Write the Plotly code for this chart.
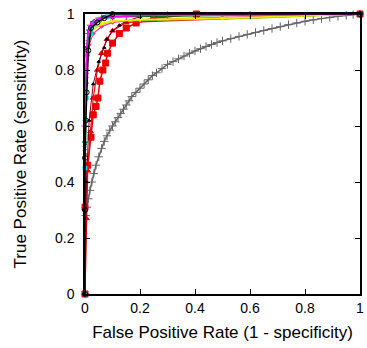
import plotly.graph_objects as go

# ROC curves (FPR, TPR)
gray_x = [0, 0.003, 0.007, 0.012, 0.018, 0.025, 0.032, 0.04, 0.05, 0.06, 0.07, 0.08, 0.09, 0.1, 0.11, 0.12, 0.13, 0.14,
          0.15, 0.16, 0.17, 0.185, 0.2, 0.215, 0.23, 0.245, 0.26, 0.28, 0.3, 0.32, 0.34, 0.36, 0.38, 0.4, 0.42, 0.44,
          0.46, 0.48, 0.5, 0.53, 0.56, 0.59, 0.62, 0.65, 0.68, 0.71, 0.74, 0.77, 0.8, 0.83, 0.86, 0.89, 0.92, 0.95,
          0.975, 1.0]
gray_y = [0, 0.28, 0.31, 0.34, 0.37, 0.4, 0.43, 0.46, 0.49, 0.52, 0.545, 0.565, 0.585, 0.6, 0.615, 0.63, 0.645, 0.66,
          0.675, 0.69, 0.705, 0.72, 0.735, 0.75, 0.765, 0.78, 0.79, 0.805, 0.82, 0.83, 0.84, 0.85, 0.86, 0.868, 0.876,
          0.884, 0.891, 0.898, 0.904, 0.912, 0.92, 0.927, 0.934, 0.941, 0.948, 0.955, 0.962, 0.968, 0.974, 0.979,
          0.984, 0.988, 0.992, 0.995, 0.998, 1.0]

red_sq_x = [0, 0, 0.01, 0.022, 0.03, 0.04, 0.047, 0.054, 0.065, 0.075, 0.082, 0.1, 0.125, 0.15, 0.186, 0.25, 0.405, 1.0]
red_sq_y = [0, 0.31, 0.46, 0.56, 0.64, 0.67, 0.70, 0.76, 0.8, 0.825, 0.86, 0.896, 0.93, 0.95, 0.968, 0.985, 1.0, 1.0]

red_tri_x = [0, 0.005, 0.01, 0.02, 0.03, 0.045, 0.06, 0.08, 0.1, 0.15, 1.0]
red_tri_y = [0, 0.27, 0.44, 0.58, 0.7, 0.8, 0.86, 0.91, 0.94, 0.97, 1.0]

blk_tri_x = [0, 0.005, 0.015, 0.03, 0.05, 0.07, 0.08, 0.1, 0.125, 0.15, 0.2, 0.3, 1.0]
blk_tri_y = [0, 0.4, 0.62, 0.75, 0.83, 0.88, 0.91, 0.94, 0.96, 0.975, 0.99, 1.0, 1.0]

blk_circ_x = [0, 0, 0, 0.003, 0.006, 0.012, 0.022, 0.045, 0.07, 0.1, 1.0]
blk_circ_y = [0, 0.3, 0.486, 0.62, 0.72, 0.87, 0.95, 0.97, 0.985, 1.0, 1.0]

mag_x = [0, 0, 0.005, 0.01, 0.02, 0.04, 0.06, 0.1, 0.15, 0.2, 0.25, 0.3, 0.6, 1.0]
mag_y = [0, 0.6, 0.85, 0.93, 0.96, 0.975, 0.985, 0.99, 0.993, 0.995, 0.996, 0.997, 0.998, 1.0]

cyan_x = [0, 0, 0.004, 0.01, 0.02, 0.035, 0.05, 0.08, 0.12, 1.0]
cyan_y = [0, 0.45, 0.7, 0.86, 0.93, 0.965, 0.98, 0.99, 0.995, 1.0]

yel_x = [0, 0, 0.004, 0.01, 0.02, 0.035, 0.06, 0.1, 0.2, 0.5, 1.0]
yel_y = [0, 0.58, 0.8, 0.88, 0.925, 0.95, 0.965, 0.975, 0.98, 0.985, 1.0]

lime_x = [0, 0, 0.005, 0.012, 0.025, 0.05, 0.1, 0.3, 0.6, 1.0]
lime_y = [0, 0.5, 0.82, 0.9, 0.94, 0.96, 0.975, 0.98, 0.985, 1.0]

dgreen_x = [0, 0, 0.003, 0.008, 0.015, 0.03, 0.06, 0.1, 1.0]
dgreen_y = [0, 0.54, 0.75, 0.88, 0.94, 0.97, 0.985, 0.99, 1.0]

pink_x = [0, 0, 0.006, 0.015, 0.03, 0.06, 0.1, 0.2, 0.5, 1.0]
pink_y = [0, 0.5, 0.8, 0.89, 0.93, 0.955, 0.97, 0.98, 0.988, 1.0]

purple_x = [0, 0, 0.004, 0.01, 0.02, 0.04, 0.07, 0.12, 1.0]
purple_y = [0, 0.52, 0.78, 0.9, 0.95, 0.975, 0.99, 0.995, 1.0]

series = [
    ("gray", gray_x, gray_y, "#666666", "#666666", "cross-thin-open", 6, 1.5),
    ("red-sq", red_sq_x, red_sq_y, "#ee0000", "#ee0000", "square", 6, 1.5),
    ("red-tri", red_tri_x, red_tri_y, "#ee0000", "#ee0000", "triangle-up", 5, 1.2),
    ("blk-tri", blk_tri_x, blk_tri_y, "#880022", "#000000", "triangle-up", 3, 1.0),
    ("pink", pink_x, pink_y, "#ff3399", "#ff3399", "diamond", 3, 1.2),
    ("purple", purple_x, purple_y, "#6600cc", "#6600cc", "x-thin-open", 4, 1.2),
    ("lime", lime_x, lime_y, "#99cc00", "#99cc00", "circle", 2, 1.5),
    ("yellow", yel_x, yel_y, "#eeee00", "#eeee00", "triangle-down", 4, 1.5),
    ("dgreen", dgreen_x, dgreen_y, "#006600", "#006600", "star", 4, 1.2),
    ("cyan", cyan_x, cyan_y, "#00dddd", "#00dddd", "square", 4, 1.5),
    ("magenta", mag_x, mag_y, "#ff00ff", "#ff00ff", "cross-thin-open", 5, 1.5),
    ("blk-circ", blk_circ_x, blk_circ_y, "#000000", "#000000", "circle-open", 5, 1.5),
]

fig = go.Figure()
for name, xs, ys, col, mcol, sym, sz, lw in series:
    fig.add_trace(go.Scatter(
        x=xs, y=ys, mode="lines+markers", name=name,
        line=dict(color=col, width=lw),
        marker=dict(symbol=sym, size=sz, color=mcol, line=dict(color=mcol, width=1)),
        cliponaxis=False,
    ))

tickvals = [0, 0.2, 0.4, 0.6, 0.8, 1]
ticktext = ["0", "0.2", "0.4", "0.6", "0.8", "1"]
axis_common = dict(
    range=[0, 1], showgrid=False, zeroline=False, showline=True,
    linecolor="black", linewidth=1.5, mirror="ticks", ticks="inside",
    ticklen=5, tickcolor="black", tickvals=tickvals, ticktext=ticktext,
    tickfont=dict(family="Liberation Sans, Arial, sans-serif", size=14, color="black"),
)
fig.update_layout(
    width=367, height=348,
    margin=dict(l=85, r=3, t=14, b=54),
    paper_bgcolor="white", plot_bgcolor="white",
    showlegend=False,
    font=dict(family="Liberation Sans, Arial, sans-serif", size=14, color="black"),
    xaxis=dict(axis_common, title=dict(text="False Positive Rate (1 - specificity)", standoff=12)),
    yaxis=dict(axis_common, ticklabelstandoff=6,
               title=dict(text="True Positive Rate (sensitivity)", standoff=24)),
)
fig.write_html("out.html")
